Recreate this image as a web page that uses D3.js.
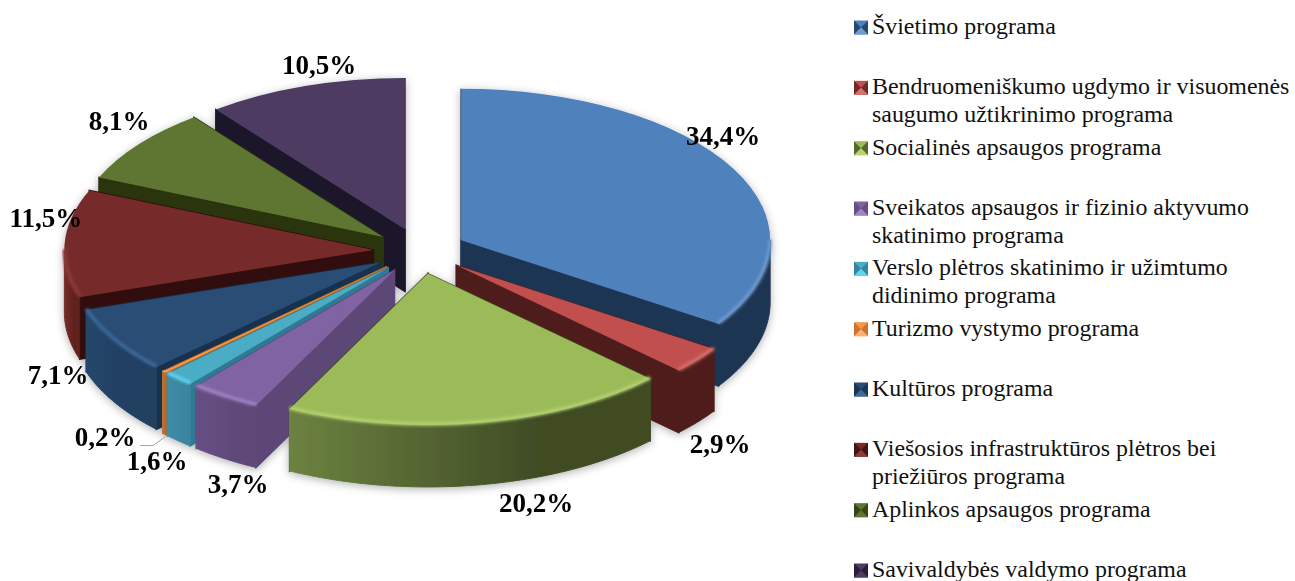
<!DOCTYPE html>
<html>
<head>
<meta charset="utf-8">
<script src="https://cdn.jsdelivr.net/npm/d3@7"></script>
<style>
  body{margin:0;background:#fff;}
  svg{display:block;}
</style>
</head>
<body>
<div id="container"></div>
<script>
let w = 1295;
let h = 581;

// data
let categories = [
  "Švietimo programa",
  "Bendruomeniškumo ugdymo ir visuomenės\nsaugumo užtikrinimo programa",
  "Socialinės apsaugos programa",
  "Sveikatos apsaugos ir fizinio aktyvumo\nskatinimo programa",
  "Verslo plėtros skatinimo ir užimtumo\ndidinimo programa",
  "Turizmo vystymo programa",
  "Kultūros programa",
  "Viešosios infrastruktūros plėtros bei\npriežiūros programa",
  "Aplinkos apsaugos programa",
  "Savivaldybės valdymo programa"
];
let values = [34.4, 2.9, 20.2, 3.7, 1.6, 0.2, 7.1, 11.5, 8.1, 10.5];

// colours, one per slice
let topColors  = ["#4f81bd","#c0504d","#9bbb59","#8064a2","#4bacc6","#f79646","#2a4d76","#772c2a","#5f7530","#4d3b62"];
let rimColors  = ["#6f9cd2","#d8716d","#b6d272","#a083c6","#62d2f0","#ffb070","#3d6a9c","#8c3b38","#5f7530","#4d3b62"];
let faceColors = ["#1f3552","#4f1f1e","#3f4b24","#5c4776","#2f7a94","#b86a28","#17304e","#300d0b","#2a3410","#1e142c"];
let sideLeft   = ["#1f3552","#4f1f1e","#6c8240","#664f84","#3f8ca6","#c07430","#254669","#762b29","#4b5d26","#3a2c4a"];
let sideRight  = ["#1f3552","#4f1f1e","#3f4b24","#5f4978","#3a85a0","#b86a28","#213f62","#5e201e","#4b5d26","#3a2c4a"];

// label centres, placed by hand like the original
let labelCenters = [[723,136],[720,444],[536,503],[238,484],[157,461],[105,437],[58,375],[46,218],[119,121],[319,65]];

// pie geometry
let cx = 420;
let cy = 251;
let radius = 309;
let tilt = 0.49;
let explode = 46.7;
let depth = 62;

let viz = d3.select("#container")
  .append("svg")
    .attr("width",w)
    .attr("height",h)
    .style("background-color","white");

let defs = viz.append("defs");

let shadow = defs.append("filter").attr("id","shadow")
  .attr("x","-10%").attr("y","-10%").attr("width","120%").attr("height","125%");
shadow.append("feDropShadow")
  .attr("dx",0).attr("dy",2).attr("stdDeviation",4)
  .attr("flood-color","#000").attr("flood-opacity",0.3);

let soft = defs.append("filter").attr("id","soft")
  .attr("x","-10%").attr("y","-10%").attr("width","120%").attr("height","120%");
soft.append("feGaussianBlur").attr("stdDeviation",1.4);

let smooth = defs.append("filter").attr("id","smooth")
  .attr("x","-5%").attr("y","-5%").attr("width","110%").attr("height","110%");
smooth.append("feGaussianBlur").attr("stdDeviation",0.5);

values.forEach(function(v,i){
  let grad = defs.append("linearGradient").attr("id","side"+i);
  grad.append("stop").attr("offset","0%").attr("stop-color",sideLeft[i]);
  grad.append("stop").attr("offset","70%").attr("stop-color",sideRight[i]);
});

let pie = d3.pie().sort(null).value(function(d){return d;});
let slices = pie(values).map(function(d,i){
  let mid = (d.startAngle+d.endAngle)/2;
  d.i = i;
  d.x = cx + explode*Math.sin(mid);
  d.y = cy - explode*tilt*Math.cos(mid);
  return d;
});

// things further back are drawn first
slices.sort(function(a,b){return d3.ascending(a.y,b.y);});

function rimX(d,a){ return d.x + radius*Math.sin(a); }
function rimY(d,a){ return d.y - radius*tilt*Math.cos(a); }

function anglesBetween(a0,a1){
  let n = Math.max(2,Math.ceil((a1-a0)/0.01));
  return d3.range(n+1).map(function(k){return a0+(a1-a0)*k/n;});
}

// only the front half of the rim can be seen
function frontAngles(d){
  let a0 = Math.max(d.startAngle,Math.PI*0.5);
  let a1 = Math.min(d.endAngle,Math.PI*1.5);
  if(a1<=a0){ return null; }
  return anglesBetween(a0,a1);
}

let arc = d3.arc().innerRadius(0).outerRadius(radius);

let pieG = viz.append("g").attr("filter","url(#shadow)");

let sliceG = pieG.selectAll(".slice").data(slices).enter()
  .append("g").attr("class","slice").attr("filter","url(#smooth)");

// the two cut faces
sliceG.each(function(d){
  let g = d3.select(this);
  [d.startAngle,d.endAngle].forEach(function(a){
    let pts = [[d.x,d.y],[rimX(d,a),rimY(d,a)],[rimX(d,a),rimY(d,a)+depth],[d.x,d.y+depth]];
    g.append("path")
      .attr("d",d3.line()(pts)+"Z")
      .attr("fill",faceColors[d.i])
      .attr("stroke",faceColors[d.i])
      .attr("stroke-width",1.5);
  });
});

// outer wall
sliceG.append("path")
  .attr("d",function(d){
    let angles = frontAngles(d);
    if(!angles){ return null; }
    let area = d3.area()
      .x(function(a){return rimX(d,a);})
      .y0(function(a){return rimY(d,a);})
      .y1(function(a){return rimY(d,a)+depth;});
    return area(angles);
  })
  .attr("fill",function(d){return "url(#side"+d.i+")";})
  .attr("stroke",function(d){return "url(#side"+d.i+")";})
  .attr("stroke-width",1);

// top
sliceG.append("path")
  .attr("d",function(d){return arc(d);})
  .attr("transform",function(d){return "translate("+d.x+","+d.y+") scale(1,"+tilt+")";})
  .attr("fill",function(d){return topColors[d.i];});

// bevel along the front of the rim
sliceG.append("path")
  .attr("d",function(d){
    let angles = frontAngles(d);
    if(!angles){ return null; }
    let line = d3.line()
      .x(function(a){return rimX(d,a);})
      .y(function(a){return rimY(d,a)-1;});
    return line(angles);
  })
  .attr("fill","none")
  .attr("stroke",function(d){return rimColors[d.i];})
  .attr("stroke-width",3.5)
  .attr("filter","url(#soft)");

// leader line for 0,2%
viz.append("path")
  .attr("d",d3.line()([[140,445.5],[153,445.5],[165,437]]))
  .attr("fill","none")
  .attr("stroke","#a6a6a6")
  .attr("stroke-width",1);

// percent labels
let percent = d3.format(".1f");
viz.selectAll(".label").data(values).enter()
  .append("text")
    .attr("class","label")
    .attr("x",function(d,i){return labelCenters[i][0];})
    .attr("y",function(d,i){return labelCenters[i][1]+9;})
    .attr("text-anchor","middle")
    .attr("font-family","'Liberation Serif'")
    .attr("font-weight","bold")
    .attr("font-size",27)
    .attr("fill","#000")
    .text(function(d){return percent(d).replace(".",",")+"%";});

// legend
let legendY = d3.scaleLinear().domain([0,9]).range([34,577]);
let legend = viz.selectAll(".legend").data(categories).enter()
  .append("g")
    .attr("class","legend")
    .attr("transform",function(d,i){return "translate(854,"+legendY(i)+")";});

let s = 14;
let corners = [[0,-6.5-s/2],[s,-6.5-s/2],[s,-6.5+s/2],[0,-6.5+s/2]];
let mid = [s/2,-6.5];
legend.each(function(d,i){
  let g = d3.select(this);
  g.append("rect")
    .attr("x",0).attr("y",-6.5-s/2).attr("width",s).attr("height",s)
    .attr("fill",topColors[i]);
  // dark left and right wedges, bright bottom
  [[corners[0],mid,corners[3]],[corners[1],mid,corners[2]]].forEach(function(t){
    g.append("path").attr("d",d3.line()(t)+"Z").attr("fill",faceColors[i]).attr("opacity",0.75);
  });
  g.append("path").attr("d",d3.line()([corners[3],mid,corners[2]])+"Z").attr("fill",rimColors[i]);
  g.selectAll("text").data(d.split("\n")).enter()
    .append("text")
      .attr("x",18)
      .attr("y",function(line,k){return k*27.6;})
      .attr("font-family","'Liberation Serif'")
      .attr("font-size",23.9)
      .attr("fill","#111")
      .text(function(line){return line;});
});
</script>
</body>
</html>
